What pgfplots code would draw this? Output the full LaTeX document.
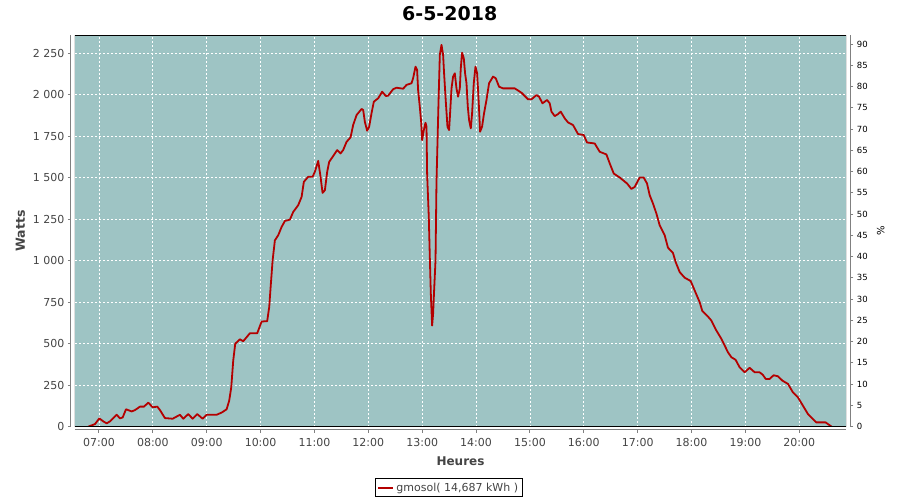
\documentclass[border=0pt]{standalone}
\usepackage{pgfplots}
\usepackage{pgfplotstable}
\pgfplotsset{compat=1.18}
\usepackage{fontspec}
\setmainfont{DejaVu Sans}
\definecolor{plotbg}{RGB}{158,196,196}
\definecolor{linered}{RGB}{180,0,0}
\definecolor{ticktext}{RGB}{68,68,68}
\definecolor{axisgray}{RGB}{128,128,128}
\pgfplotstableread{
h W
6.80 0
6.926 16
7.006 50
7.080 32
7.143 20
7.204 32
7.328 72
7.390 50
7.440 56
7.501 105
7.607 92
7.668 100
7.761 121
7.835 121
7.915 145
7.996 117
8.082 121
8.132 100
8.224 52
8.367 48
8.503 72
8.564 48
8.657 76
8.738 48
8.824 76
8.924 48
8.998 72
9.184 72
9.276 85
9.369 105
9.417 157
9.455 237
9.492 399
9.529 500
9.616 527
9.677 515
9.801 563
9.937 563
10.019 634
10.122 636
10.160 721
10.186 841
10.223 1003
10.265 1123
10.327 1154
10.390 1204
10.451 1240
10.544 1248
10.605 1294
10.698 1335
10.761 1385
10.803 1476
10.883 1506
10.965 1506
11.007 1536
11.069 1602
11.113 1506
11.150 1409
11.193 1425
11.236 1536
11.273 1596
11.336 1626
11.421 1667
11.484 1647
11.532 1667
11.596 1717
11.670 1744
11.718 1818
11.781 1878
11.874 1915
11.904 1909
11.935 1838
11.978 1784
12.015 1808
12.059 1889
12.102 1959
12.182 1979
12.256 2019
12.325 1993
12.367 1995
12.460 2034
12.523 2043
12.646 2037
12.709 2060
12.801 2070
12.831 2100
12.876 2170
12.905 2150
12.924 2029
12.955 1929
12.980 1838
12.998 1727
13.030 1788
13.061 1832
13.080 1808
13.091 1526
13.122 1264
13.141 1023
13.160 801
13.184 610
13.202 680
13.221 821
13.247 1003
13.265 1476
13.284 1717
13.302 1949
13.327 2241
13.358 2301
13.388 2241
13.406 2130
13.438 1959
13.469 1808
13.499 1788
13.512 1858
13.544 2039
13.573 2110
13.605 2130
13.636 2039
13.666 1989
13.698 2039
13.716 2160
13.740 2254
13.772 2220
13.796 2130
13.822 2070
13.846 1929
13.870 1848
13.902 1798
13.926 1889
13.957 2070
13.989 2170
14.019 2130
14.037 2029
14.056 1909
14.074 1778
14.111 1808
14.148 1889
14.193 1969
14.241 2070
14.315 2110
14.365 2100
14.427 2049
14.501 2039
14.718 2039
14.842 2013
14.965 1973
15.028 1973
15.121 1999
15.169 1989
15.232 1949
15.317 1969
15.367 1949
15.399 1899
15.460 1872
15.521 1884
15.571 1899
15.646 1858
15.707 1834
15.800 1818
15.892 1764
15.998 1758
16.059 1713
16.202 1707
16.295 1657
16.419 1641
16.481 1587
16.555 1526
16.666 1502
16.802 1466
16.883 1433
16.944 1445
17.037 1502
17.111 1502
17.173 1466
17.223 1395
17.284 1345
17.347 1285
17.408 1214
17.501 1154
17.562 1079
17.655 1047
17.705 992
17.779 932
17.872 898
17.983 878
18.058 821
18.150 751
18.200 697
18.304 664
18.367 640
18.460 580
18.553 530
18.675 449
18.738 419
18.818 403
18.892 358
18.985 328
19.078 355
19.171 328
19.263 328
19.325 312
19.375 288
19.449 288
19.523 310
19.603 304
19.685 278
19.789 258
19.882 207
19.974 177
20.067 127
20.159 77
20.222 56
20.315 26
20.488 26
20.575 6
20.600 0
}\powertable
\begin{document}
\begin{tikzpicture}
\path[use as bounding box] (-75pt,-73.3pt) rectangle (825pt,426.7pt);
\begin{axis}[
  at={(0,0)}, anchor=south west,
  scale only axis, width=771pt, height=391.4pt,
  xmin=6.5545, xmax=20.867, ymin=0, ymax=2359,
  axis background/.style={fill=plotbg},
  axis x line*=bottom, axis y line*=left,
  axis x line shift=3.3pt, axis y line shift=4pt,
  axis line style={axisgray, line width=1pt, -},
  xtick={7,8,...,20},
  xticklabels={07:00,08:00,09:00,10:00,11:00,12:00,13:00,14:00,15:00,16:00,17:00,18:00,19:00,20:00},
  ytick={0,250,...,2250},
  yticklabels={0,250,500,750,1 000,1 250,1 500,1 750,2 000,2 250},
  tick align=outside, major tick length=3pt,
  tick style={axisgray, line width=1pt},
  grid=major,
  major grid style={white, dash pattern=on 2pt off 2pt, line width=0.8pt},
  ticklabel style={font=\fontsize{11}{13}\selectfont, text=ticktext},
  xticklabel style={yshift=-1.5pt},
  title={6-5-2018},
  title style={at={(axis description cs:0.486,1.0233)}, anchor=base, font=\fontsize{19}{22}\bfseries\selectfont, text=black},
  xlabel={Heures},
  xlabel style={at={(axis description cs:0.5,-0.0979)}, anchor=base, font=\fontsize{12}{14}\bfseries\selectfont, text=ticktext},
  ylabel={Watts},
  ylabel style={at={(axis description cs:-0.0707,0.5)}, anchor=center, font=\fontsize{12.5}{14}\bfseries\selectfont, text=ticktext},
  legend style={at={(axis description cs:0.4848,-0.1559)}, anchor=center, draw=black, line width=0.8pt, fill=white, font=\fontsize{11}{13}\selectfont, text=ticktext, inner xsep=2.5pt, inner ysep=2pt},
  legend image code/.code={\draw[linered, line width=2pt] (0pt,0pt) -- (15pt,0pt);},
]
\addplot[linered, line width=1.8pt, line join=round] table[x=h, y=W] {\powertable};
\addlegendentry{gmosol( 14,687 kWh )}
\draw[black, line width=1pt] (rel axis cs:0,0) rectangle (rel axis cs:1,1);
\end{axis}
\begin{axis}[
  at={(0,0)}, anchor=south west,
  scale only axis, width=771pt, height=391.4pt,
  xmin=6.5545, xmax=20.867, ymin=0, ymax=92.05,
  axis x line=none, axis y line*=right, axis y line shift=4.7pt,
  axis line style={axisgray, line width=1pt, -},
  ytick={0,5,...,90},
  yticklabels={0,5,10,15,20,25,30,35,40,45,50,55,60,65,70,75,80,85,90},
  tick align=outside, major tick length=2.7pt,
  tick style={axisgray, line width=1pt},
  yticklabel style={font=\fontsize{8.5}{10}\selectfont, text=black},
  ylabel={\%},
  ylabel style={at={(axis description cs:1.0451,0.5)}, anchor=center, font=\fontsize{10}{12}\selectfont, text=black},
]
\addplot[draw=none] coordinates {(7,0)};
\end{axis}
\end{tikzpicture}
\end{document}
